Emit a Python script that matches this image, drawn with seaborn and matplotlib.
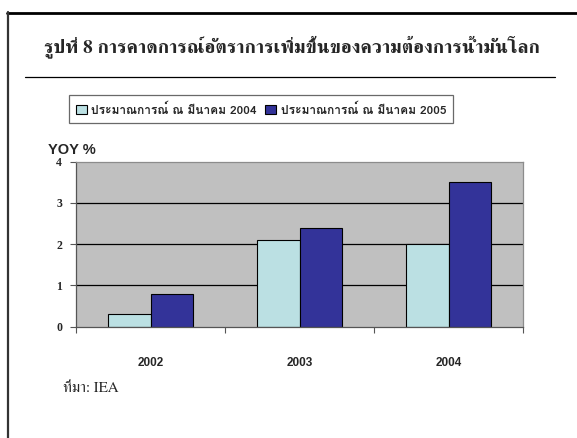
import numpy as np
import pandas as pd
import seaborn as sns
import matplotlib
matplotlib.use("Agg")
import matplotlib.pyplot as plt
from matplotlib import font_manager
from matplotlib.ft2font import FT2Font
from matplotlib.lines import Line2D
from matplotlib.patches import Patch

# ---- data -------------------------------------------------------------
years = ["2002", "2003", "2004"]
series_names = ["ประมาณการณ์ ณ มีนาคม 2004", "ประมาณการณ์ ณ มีนาคม 2005"]
forecast_2004 = [0.3, 2.1, 2.0]
forecast_2005 = [0.8, 2.4, 3.5]
y_ticks = [0, 1, 2, 3, 4]

title_text = "รูปที่ 8 การคาดการณ์อัตราการเพิ่มขึ้นของความต้องการน้ำมันโลก"
source_text = "ที่มา: IEA"
y_label = "YOY %"

colors = ["#BBE0E3", "#333399"]

df = pd.DataFrame({
    "year": years * 2,
    "value": forecast_2004 + forecast_2005,
    "series": [series_names[0]] * 3 + [series_names[1]] * 3,
})


# ---- fonts: find families that cover Thai script ---------------------
def thai_families():
    names = []
    for f in font_manager.fontManager.ttflist:
        try:
            if 0x0E01 in FT2Font(f.fname).get_charmap():
                if f.name not in names:
                    names.append(f.name)
        except Exception:
            pass
    return names


thai = thai_families()
thai_serif = [n for n in thai if "Serif" in n] or thai
thai_sans = [n for n in thai if "Serif" not in n] or thai

sns.set_theme(style="white")
plt.rcParams["font.family"] = thai_sans + ["DejaVu Sans"]

serif_fam = thai_serif + ["Liberation Serif", "DejaVu Serif"]
sans_fam = thai_sans + ["Liberation Sans", "DejaVu Sans"]

# ---- figure -----------------------------------------------------------
W, H = 577, 438
fig = plt.figure(figsize=(W / 100, H / 100), dpi=100)
fig.patch.set_facecolor("white")

def fx(px):
    return px / W

def fy(py):
    return 1 - py / H

ax = fig.add_axes([fx(76), fy(326.7), fx(523) - fx(76), fy(161.7) - fy(326.7)])
ax.set_facecolor("#C0C0C0")

sns.barplot(
    data=df, x="year", y="value", hue="series", palette=colors,
    width=0.573, gap=0, edgecolor="black", linewidth=0.8,
    saturation=1, legend=False, ax=ax, errorbar=None,
)

ax.set_xlim(-0.5, 2.5)
ax.set_ylim(0, 4)
ax.set_yticks(y_ticks)
ax.set_yticklabels([str(t) for t in y_ticks], family=["Liberation Serif"],
                   fontweight="bold", fontsize=8.5)

# horizontal grid lines (interior only)
ax.set_axisbelow(True)
ax.yaxis.grid(True, color="black", linewidth=0.9)
gl = ax.get_ygridlines()
gl[0].set_visible(False)
gl[-1].set_visible(False)
ax.xaxis.grid(False)

# x ticks at category boundaries, labels centred on categories
ax.set_xticks([-0.5, 0.5, 1.5, 2.5])
ax.set_xticklabels([])
ax.set_xticks([0, 1, 2], minor=True)
ax.set_xticklabels(years, minor=True, family=["Liberation Sans"],
                   fontweight="bold", fontsize=8.5)
ax.tick_params(axis="x", which="major", length=4, width=0.8, color="#555555",
               direction="out", bottom=True)
ax.tick_params(axis="x", which="minor", length=0, pad=22)
ax.tick_params(axis="y", length=4, width=0.8, color="#555555",
               direction="out", left=True, pad=6)
ax.set_xlabel("")
ax.set_ylabel("")

for side in ["left", "bottom"]:
    ax.spines[side].set_color("#555555")
    ax.spines[side].set_linewidth(0.9)
for side in ["top", "right"]:
    ax.spines[side].set_color("#8C8C8C")
    ax.spines[side].set_linewidth(0.9)

# axis caption
fig.text(fx(48), fy(150), y_label, family=["Liberation Sans"],
         fontweight="bold", fontsize=10.5, ha="left", va="center")

# legend
handles = [Patch(facecolor=c, edgecolor="black", linewidth=0.8) for c in colors]
leg = fig.legend(
    handles, series_names, loc="center", bbox_to_anchor=(fx(261), fy(109)),
    ncol=2, frameon=True, fancybox=False,
    prop={"family": sans_fam, "weight": "bold", "size": 8.6},
    handlelength=0.9, handleheight=0.9, handletextpad=0.4,
    columnspacing=0.7, borderpad=0.6, borderaxespad=0,
)
leg.get_frame().set_edgecolor("#444444")
leg.get_frame().set_linewidth(0.9)

# title, rule and source note
fig.text(fx(292), fy(46.5), title_text, family=serif_fam, fontweight="bold",
         fontsize=13.9, ha="center", va="center")
fig.add_artist(Line2D([fx(25), fx(555)], [fy(76.5), fy(76.5)],
                      color="black", linewidth=0.9))
fig.text(fx(63), fy(388), source_text, family=serif_fam, fontsize=11,
         ha="left", va="center")

# page border (top and left)
fig.add_artist(Line2D([fx(7), 1], [fy(12.5), fy(12.5)], color="black",
                      linewidth=2))
fig.add_artist(Line2D([fx(7.5), fx(7.5)], [fy(12), 0], color="#333333",
                      linewidth=1.6))

fig.savefig("out.png", dpi=100, facecolor="white")
